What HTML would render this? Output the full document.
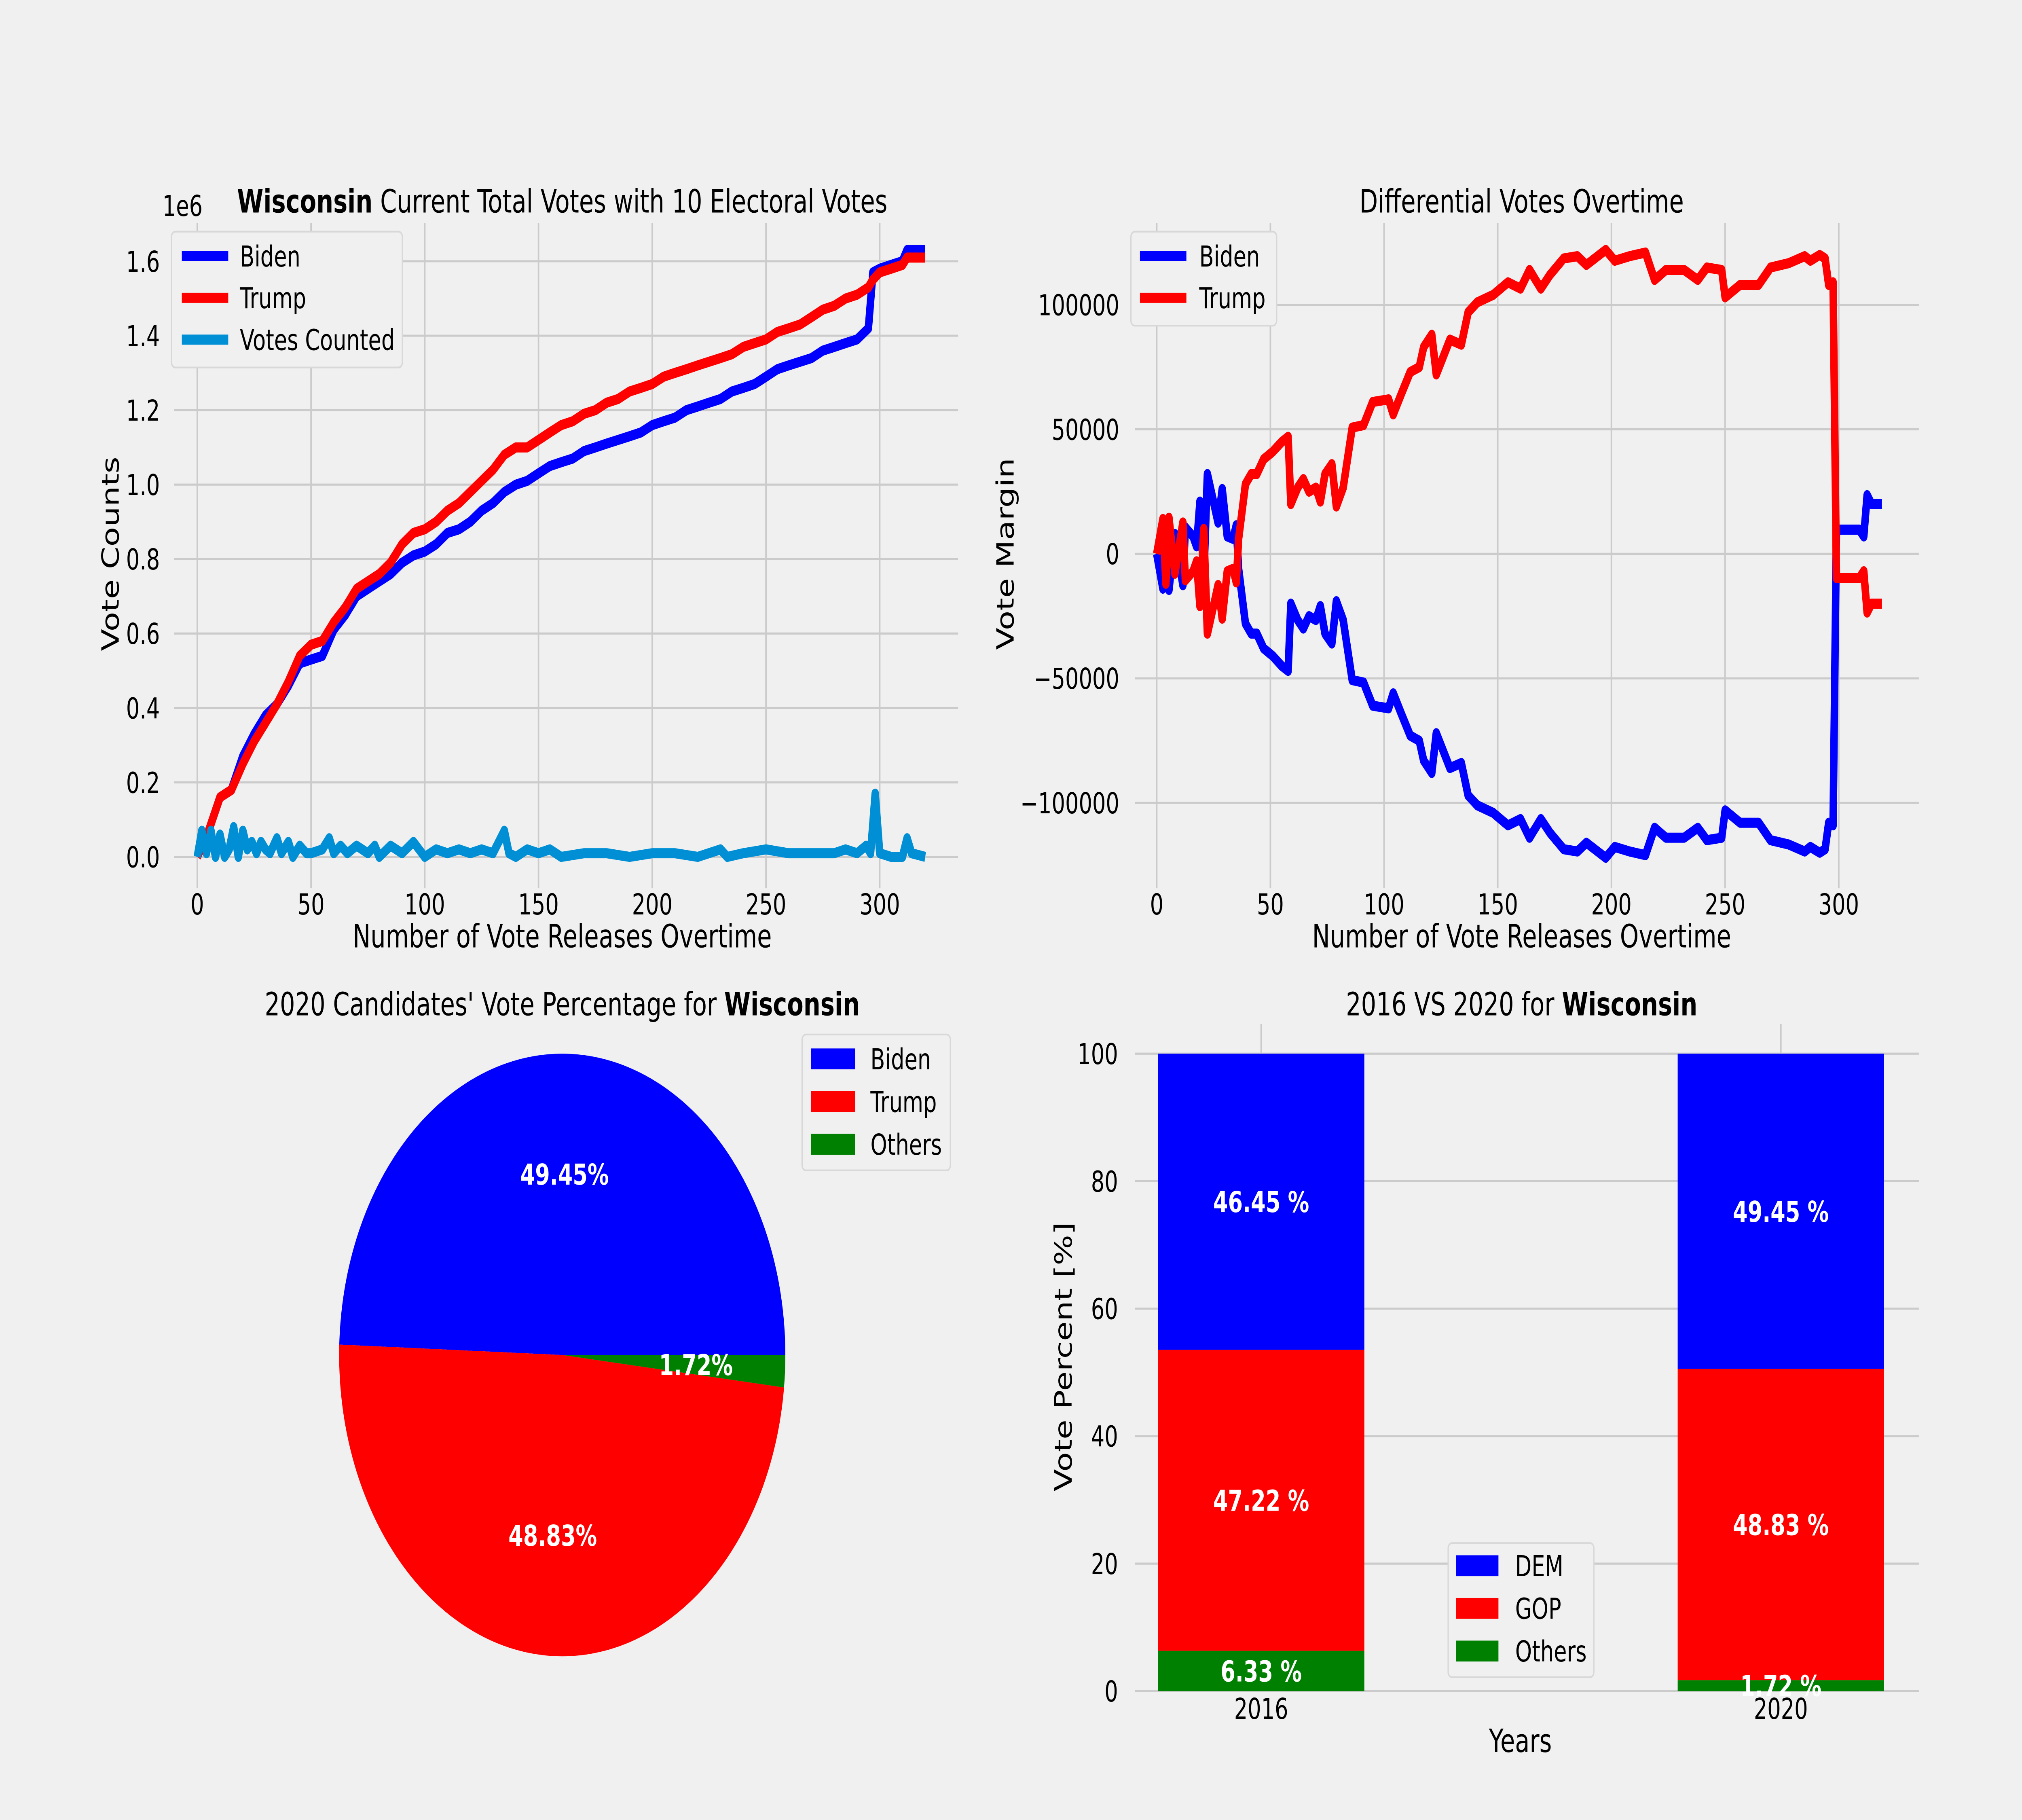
<!DOCTYPE html>
<html><head><meta charset="utf-8"><style>
html,body{margin:0;padding:0;background:#f0f0f0;overflow:hidden;width:100%;height:100%;}
svg{display:block;width:100vw;height:100vh;font-family:"DejaVu Sans","Liberation Sans",sans-serif;}
</style></head>
<body>
<svg id="fig" xmlns="http://www.w3.org/2000/svg" viewBox="0 0 1568 1045" preserveAspectRatio="none">
<rect width="1568" height="1045" fill="#f0f0f0"/>
<g id="g1"></g>
<g id="g2"></g>
<g id="g3"></g>
<g id="g4"></g>
</svg>
<script>
// ---------- chart 1 data (votes in millions) ----------
const totIdx = [0,5,10,15,20,25,30,35,40,45,50,55,60,65,70,75,80,85,90,95,100,105,110,115,120,125,130,135,140,145,150,155,160,165,170,175,180,185,190,195,200,205,210,215,220,225,230,235,240,245,250,255,260,265,270,275,280,285,290,295,297,300,305,310,312,320];
const trumpTotal = [0,0.07,0.16,0.18,0.25,0.31,0.36,0.41,0.47,0.54,0.57,0.58,0.63,0.67,0.72,0.74,0.76,0.79,0.84,0.87,0.88,0.90,0.93,0.95,0.98,1.01,1.04,1.08,1.10,1.10,1.12,1.14,1.16,1.17,1.19,1.20,1.22,1.23,1.25,1.26,1.27,1.29,1.30,1.31,1.32,1.33,1.34,1.35,1.37,1.38,1.39,1.41,1.42,1.43,1.45,1.47,1.48,1.50,1.51,1.53,1.55,1.57,1.58,1.59,1.61,1.61];
const bidenTotal = [0,0.07,0.16,0.18,0.27,0.33,0.38,0.41,0.46,0.52,0.53,0.54,0.61,0.65,0.70,0.72,0.74,0.76,0.79,0.81,0.82,0.84,0.87,0.88,0.90,0.93,0.95,0.98,1.00,1.01,1.03,1.05,1.06,1.07,1.09,1.10,1.11,1.12,1.13,1.14,1.16,1.17,1.18,1.20,1.21,1.22,1.23,1.25,1.26,1.27,1.29,1.31,1.32,1.33,1.34,1.36,1.37,1.38,1.39,1.42,1.57,1.58,1.59,1.60,1.63,1.63];
const countIdx = [0,2,4,6,8,10,12,14,16,18,20,22,24,26,28,30,32,35,37,40,42,45,48,50,55,58,60,63,66,70,75,78,80,85,90,95,100,105,110,115,120,125,130,135,137,140,145,150,155,160,170,180,190,200,210,220,230,233,240,250,260,270,280,285,290,294,296,298,300,305,310,312,314,320];
const votesCounted = [0,0.07,0.01,0.07,0,0.06,0,0.02,0.08,0,0.07,0.02,0.04,0.01,0.04,0.02,0.01,0.05,0.01,0.04,0,0.03,0.01,0.01,0.02,0.05,0.01,0.03,0.01,0.03,0.01,0.03,0,0.03,0.01,0.04,0,0.02,0.01,0.02,0.01,0.02,0.01,0.07,0.01,0,0.02,0.01,0.02,0,0.01,0.01,0,0.01,0.01,0,0.02,0,0.01,0.02,0.01,0.01,0.01,0.02,0.01,0.03,0.01,0.17,0.01,0,0,0.05,0.01,0];
const yTicks1 = [0,0.2,0.4,0.6,0.8,1.0,1.2,1.4,1.6];
const xTicks = [0,50,100,150,200,250,300];
// ---------- chart 2 data (Trump margin, thousands) ----------
const diffIdx = [0,2.7,4,5.4,8,11.5,12.6,16,17.5,19,20.7,22.3,24,27,28.8,31,33.6,35,36,39,41.6,44,47,51,55,57.8,59,62,64.5,67,70,72,74,77,79,82,86,91,95,102,104,107.5,111.5,115.5,117.4,121,123,126,129,134,137,141,148,154.5,160,164,169,173,179,185,189,197.5,201.5,208,215,219,224,232,238,242,248.5,250,256.6,264.7,270,278,285,287.5,291.6,294,295.6,297.5,299,309,311,312.5,314.4,319];
const trumpMargin = [0,14,-12,14.5,-8,12.6,-10.6,-7,-3,-21,10,-32,-25,-12.5,-26,-7,-6,-11.5,6,28,32,32,38,41,45,47,20,26.6,30,25,26.6,21,32,36,19,26.6,50.7,51.7,61,62,56,64,73,75,83,88,72,79,86,84,97,101,104,109,106.5,114,106.5,112,118.6,119.5,116,122,117.7,119.5,121,110,114,114,110,115,114,103,108,108,115,116.7,119.5,117.7,120,118.6,108,109,-9.7,-9.7,-7,-23.6,-20,-20];
const bidenMargin = trumpMargin.map(v => -v);
const yTicks2 = [-100,-50,0,50,100];
// ---------- pie data ----------
const pieLabels = ["Biden","Trump","Others"];
const pieValues = [49.45,48.83,1.72];
// ---------- bar data ----------
const years = ["2016","2020"];
const demPct = [46.45,49.45];
const gopPct = [47.22,48.83];
const othPct = [6.33,1.72];
const yTicks4 = [0,20,40,60,80,100];

const NS = "http://www.w3.org/2000/svg";
function mk(parent, tag, attrs, text){
  const e = document.createElementNS(NS, tag);
  for (const k in attrs) e.setAttribute(k, attrs[k]);
  if (text !== undefined) e.textContent = text;
  parent.appendChild(e);
  return e;
}
const GRID = "#cbcbcb";
const FS = 16.5;

// ================= Chart 1 =================
(function(){
  const g = document.getElementById('g1');
  const L=135,R=743,T=128,B=510;
  const xs = i => 153 + 1.764*i;
  const ys = v => 492 - 213.75*v;
  yTicks1.forEach(t=>{
    const l = mk(g,'line',{x1:L,x2:R,y1:ys(t),y2:ys(t),stroke:GRID,'stroke-width':1.2});
    
    
    const tx = mk(g,'text',{x:124,y:ys(t)+6,'text-anchor':'end','font-size':FS,fill:'#000'}, t.toFixed(1));
    
    
  });
  xTicks.forEach(t=>{
    const l = mk(g,'line',{x1:xs(t),x2:xs(t),y1:T,y2:B,stroke:GRID,'stroke-width':1.2});
    
    
    const tx = mk(g,'text',{x:xs(t),y:525,'text-anchor':'middle','font-size':FS}, String(t));
    
    
  });
  function line(idx, vals, color, name){
    const d = idx.map((x,k)=>(k?'L':'M')+xs(x).toFixed(1)+','+ys(vals[k]).toFixed(1)).join('');
    const p = mk(g,'path',{d:d,fill:'none',stroke:color,'stroke-width':5.8,'stroke-linejoin':'round'});
    
    
  }
  line(totIdx,bidenTotal,'#0000ff','biden-total-line');
  line(totIdx,trumpTotal,'#ff0000','trump-total-line');
  line(countIdx,votesCounted,'#008fd5','votes-counted-line');
  const off = mk(g,'text',{x:126,y:124,'font-size':FS},'1e6');
  
  
  const ttl = mk(g,'text',{x:436,y:122,'text-anchor':'middle','font-size':18.5});
  
  
  mk(ttl,'tspan',{'font-weight':'bold'},'Wisconsin');
  mk(ttl,'tspan',{},' Current Total Votes with 10 Electoral Votes');
  const yl = mk(g,'text',{x:0,y:0,'text-anchor':'middle','font-size':18.5,transform:'translate(92,318) rotate(-90)'},'Vote Counts');
  
  
  const xl = mk(g,'text',{x:436,y:544,'text-anchor':'middle','font-size':18.5},'Number of Vote Releases Overtime');
  
  
  const lg = mk(g,'g',{});
  
  
  mk(lg,'rect',{x:133,y:133,width:179,height:78,rx:3,fill:'#f0f0f0',stroke:'#d8d8d8','stroke-width':1});
  [['Biden','#0000ff'],['Trump','#ff0000'],['Votes Counted','#008fd5']].forEach((e,k)=>{
    const y=147+24*k;
    const it = mk(lg,'g',{});
    
    
    mk(it,'line',{x1:141,x2:177,y1:y,y2:y,stroke:e[1],'stroke-width':5.8});
    mk(it,'text',{x:186,y:y+6,'font-size':FS},e[0]);
  });
})();

// ================= Chart 2 =================
(function(){
  const g = document.getElementById('g2');
  const L=880,R=1488,T=128,B=510;
  const xs = i => 897 + 1.763*i;
  const ys = v => 318 - 1.43*v;
  yTicks2.forEach(t=>{
    const l = mk(g,'line',{x1:L,x2:R,y1:ys(t),y2:ys(t),stroke:GRID,'stroke-width':1.2});
    
    
    const lab = t===0 ? '0' : (t<0?'\u2212':'')+String(Math.abs(t)*1000);
    const tx = mk(g,'text',{x:868,y:ys(t)+6,'text-anchor':'end','font-size':FS}, lab);
    
    
  });
  xTicks.forEach(t=>{
    const l = mk(g,'line',{x1:xs(t),x2:xs(t),y1:T,y2:B,stroke:GRID,'stroke-width':1.2});
    
    
    const tx = mk(g,'text',{x:xs(t),y:525,'text-anchor':'middle','font-size':FS}, String(t));
    
    
  });
  function line(vals,color,name){
    const d = diffIdx.map((x,k)=>(k?'L':'M')+xs(x).toFixed(1)+','+ys(vals[k]).toFixed(1)).join('');
    const p = mk(g,'path',{d:d,fill:'none',stroke:color,'stroke-width':5.8,'stroke-linejoin':'round'});
    
    
  }
  line(bidenMargin,'#0000ff','biden-margin-line');
  line(trumpMargin,'#ff0000','trump-margin-line');
  const ttl = mk(g,'text',{x:1180,y:122,'text-anchor':'middle','font-size':18.5},'Differential Votes Overtime');
  
  
  const yl = mk(g,'text',{x:0,y:0,'text-anchor':'middle','font-size':18.5,transform:'translate(786,318) rotate(-90)'},'Vote Margin');
  
  
  const xl = mk(g,'text',{x:1180,y:544,'text-anchor':'middle','font-size':18.5},'Number of Vote Releases Overtime');
  
  
  const lg = mk(g,'g',{});
  
  
  mk(lg,'rect',{x:877,y:133,width:113,height:54,rx:3,fill:'#f0f0f0',stroke:'#d8d8d8','stroke-width':1});
  [['Biden','#0000ff'],['Trump','#ff0000']].forEach((e,k)=>{
    const y=147+24*k;
    const it = mk(lg,'g',{});
    
    
    mk(it,'line',{x1:884,x2:920,y1:y,y2:y,stroke:e[1],'stroke-width':5.8});
    mk(it,'text',{x:930,y:y+6,'font-size':FS},e[0]);
  });
})();

// ================= Pie =================
(function(){
  const g = document.getElementById('g3');
  const cx=436, cy=778, r=173;
  const colors=['#0000ff','#ff0000','#008000'];
  const total = pieValues.reduce((a,b)=>a+b,0);
  let a0 = 0;
  pieValues.forEach((v,k)=>{
    const a1 = a0 + v/total*2*Math.PI;
    const p0=[cx+r*Math.cos(a0), cy-r*Math.sin(a0)], p1=[cx+r*Math.cos(a1), cy-r*Math.sin(a1)];
    const large = (a1-a0)>Math.PI?1:0;
    const w = mk(g,'path',{d:`M${cx},${cy}L${p0[0]},${p0[1]}A${r},${r} 0 ${large} 0 ${p1[0]},${p1[1]}Z`,fill:colors[k]});
    
    
    const am=(a0+a1)/2;
    const t = mk(g,'text',{x:cx+0.6*r*Math.cos(am),y:cy-0.6*r*Math.sin(am)+6,'text-anchor':'middle','font-size':FS,'font-weight':'bold',fill:'#fff'}, v.toFixed(2)+'%');
    
    
    a0=a1;
  });
  const ttl = mk(g,'text',{x:436,y:583,'text-anchor':'middle','font-size':18.5});
  
  
  mk(ttl,'tspan',{},"2020 Candidates' Vote Percentage for ");
  mk(ttl,'tspan',{'font-weight':'bold'},'Wisconsin');
  const lg = mk(g,'g',{});
  
  
  mk(lg,'rect',{x:622,y:594,width:115,height:78,rx:3,fill:'#f0f0f0',stroke:'#d8d8d8','stroke-width':1});
  pieLabels.forEach((n,k)=>{
    const y=608+24.5*k;
    const it = mk(lg,'g',{});
    
    
    mk(it,'rect',{x:629,y:y-6,width:34,height:12,fill:colors[k]});
    mk(it,'text',{x:675,y:y+6,'font-size':FS},n);
  });
})();

// ================= Bars =================
(function(){
  const g = document.getElementById('g4');
  const L=880,R=1488,T=588,B=971;
  const ys = v => 971 - 3.66*v;
  const cxs = [978,1381];
  const bw = 160;
  yTicks4.forEach(t=>{
    const l = mk(g,'line',{x1:L,x2:R,y1:ys(t),y2:ys(t),stroke:GRID,'stroke-width':1.2});
    
    
    const tx = mk(g,'text',{x:867,y:ys(t)+6,'text-anchor':'end','font-size':FS}, String(t));
    
    
  });
  years.forEach((y,k)=>{
    const l = mk(g,'line',{x1:cxs[k],x2:cxs[k],y1:T,y2:B,stroke:GRID,'stroke-width':1.2});
    
    
  });
  const series=[['others',othPct,'#008000'],['gop',gopPct,'#ff0000'],['dem',demPct,'#0000ff']];
  const labs=[];
  years.forEach((y,k)=>{
    let base=0;
    series.forEach(s=>{
      const v=s[1][k];
      const b = mk(g,'rect',{x:cxs[k]-bw/2,y:ys(base+v),width:bw,height:ys(base)-ys(base+v),fill:s[2]});
      
      
      labs.push([cxs[k],ys(base+v/2)+6,v.toFixed(2)+' %']);
      base+=v;
    });
  });
  years.forEach((y,k)=>{
    const tx = mk(g,'text',{x:cxs[k],y:987,'text-anchor':'middle','font-size':FS}, y);
    
    
  });
  labs.forEach(l=>{
    const t = mk(g,'text',{x:l[0],y:l[1],'text-anchor':'middle','font-size':FS,'font-weight':'bold',fill:'#fff'}, l[2]);
    
    
  });
  const ttl = mk(g,'text',{x:1180,y:583,'text-anchor':'middle','font-size':18.5});
  
  
  mk(ttl,'tspan',{},'2016 VS 2020 for ');
  mk(ttl,'tspan',{'font-weight':'bold'},'Wisconsin');
  const yl = mk(g,'text',{x:0,y:0,'text-anchor':'middle','font-size':18.5,transform:'translate(831,779) rotate(-90)'},'Vote Percent [%]');
  
  
  const xl = mk(g,'text',{x:1179,y:1006,'text-anchor':'middle','font-size':18.5},'Years');
  
  
  const lg = mk(g,'g',{});
  
  
  mk(lg,'rect',{x:1123,y:886,width:113,height:77,rx:3,fill:'#f0f0f0',stroke:'#d8d8d8','stroke-width':1});
  [['DEM','#0000ff'],['GOP','#ff0000'],['Others','#008000']].forEach((e,k)=>{
    const y=899+24.5*k;
    const it = mk(lg,'g',{});
    
    
    mk(it,'rect',{x:1129,y:y-6,width:33,height:12,fill:e[1]});
    mk(it,'text',{x:1175,y:y+6,'font-size':FS},e[0]);
  });
})();
</script>
</body></html>
